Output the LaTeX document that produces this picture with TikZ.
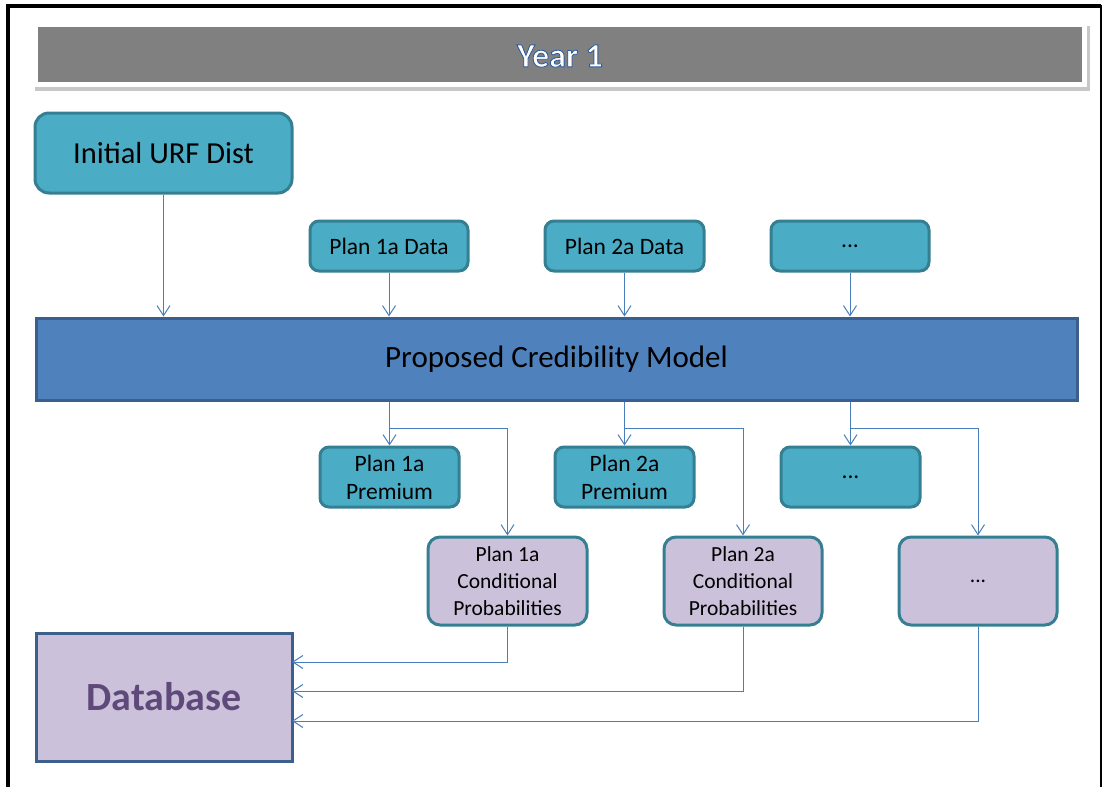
\documentclass[tikz,border=0pt]{standalone}
\usepackage{fontspec}
\setmainfont{Carlito}
\newfontfamily\titlefont[FakeBold=2.5,UprightFont=* Bold]{Carlito}
\usetikzlibrary{arrows.meta,calc}
\definecolor{tealfill}{HTML}{4BACC6}
\definecolor{tealline}{HTML}{357F92}
\definecolor{modelfill}{HTML}{4F81BD}
\definecolor{modelline}{HTML}{3A5F8D}
\definecolor{lavfill}{HTML}{CCC1DA}
\definecolor{dbline}{HTML}{3C5F8C}
\definecolor{arrowcol}{HTML}{4A7EBB}
\definecolor{dbtext}{HTML}{5F497A}
\definecolor{titlegray}{HTML}{808080}
\begin{document}
\begin{tikzpicture}[x=1pt,y=-1pt,
  tealbox/.style={draw=tealline, fill=tealfill, line width=3pt, rounded corners=9pt, text=black, align=center, inner sep=0pt},
  lavbox/.style={draw=tealline, fill=lavfill, line width=3pt, rounded corners=12pt, text=black, align=center, inner sep=0pt},
  smallfont/.style={font=\fontsize{23.5}{28}\selectfont},
  condfont/.style={font=\fontsize{21.5}{27}\selectfont},
  arr/.style={draw=arrowcol, line width=1pt, -{Straight Barb[length=10pt,width=13pt]}}]
\useasboundingbox (0,0) rectangle (1104,787);
\fill[white] (0,0) rectangle (1104,787);
% frame
\draw[line width=4pt] (8,787) -- (8,6) -- (1101,6);
\draw[line width=2pt] (1101,5) -- (1101,787);
% title bar
\fill[black!22] (35,26) rectangle (1090,91);
\fill[white] (33,23) rectangle (1087,87);
\fill[titlegray] (38,27) rectangle (1082,82);
\node[font=\titlefont\fontsize{34}{40}\selectfont] (title) at (560,56)
  {\special{pdf:bcolor [1 1 1] [0.17 0.36 0.62]}Year 1\special{pdf:ecolor}};
% top row
\node[tealbox, minimum width=257pt, minimum height=80pt, rounded corners=14pt, font=\fontsize{30.5}{36}\selectfont] (urf) at (163.5,153) {Initial URF Dist};
\node[tealbox, smallfont, minimum width=158pt, minimum height=50pt] (d1) at (389,246) {Plan 1a Data};
\node[tealbox, smallfont, minimum width=159pt, minimum height=50pt] (d2) at (624.5,246) {Plan 2a Data};
\node[tealbox, smallfont, minimum width=158pt, minimum height=50pt] (d3) at (850,246) {...};
% model
\node[draw=modelline, fill=modelfill, line width=3pt, minimum width=1041pt, minimum height=82pt, inner sep=0pt, font=\fontsize{31}{36}\selectfont] (model) at (556.5,359) {Proposed Credibility Model};
% premiums
\node[tealbox, smallfont, minimum width=139pt, minimum height=60pt] (p1) at (389.5,477) {Plan 1a\\Premium};
\node[tealbox, smallfont, minimum width=139pt, minimum height=60pt] (p2) at (624.5,477) {Plan 2a\\Premium};
\node[tealbox, smallfont, minimum width=139pt, minimum height=60pt] (p3) at (850.5,477) {...};
% conditional
\node[lavbox, condfont, minimum width=159pt, minimum height=88pt] (c1) at (507.5,581) {Plan 1a\\Conditional\\Probabilities};
\node[lavbox, condfont, minimum width=158pt, minimum height=88pt] (c2) at (743,581) {Plan 2a\\Conditional\\Probabilities};
\node[lavbox, condfont, minimum width=158pt, minimum height=88pt] (c3) at (978,581) {...};
% database
\node[draw=dbline, fill=lavfill, line width=3pt, minimum width=256pt, minimum height=128pt, inner sep=0pt, text=dbtext, font=\fontsize{40}{46}\bfseries\selectfont] (db) at (164,697) {Database};
% arrows into model
\draw[arr] (urf.south) -- (urf.south |- model.north);
\draw[arr] (d1.south) -- (d1.south |- model.north);
\draw[arr] (d2.south) -- (d2.south |- model.north);
\draw[arr] (d3.south) -- (d3.south |- model.north);
% arrows out of model
\coordinate (b1) at (389.5,428);
\coordinate (b2) at (624.5,428);
\coordinate (b3) at (850.5,428);
\draw[arr] (p1.north |- model.south) -- (p1.north);
\draw[arr] (p2.north |- model.south) -- (p2.north);
\draw[arr] (p3.north |- model.south) -- (p3.north);
\draw[arr] (b1) -| (c1.north);
\draw[arr] (b2) -| (c2.north);
\draw[arr] (b3) -| (c3.north);
% into database
\coordinate (e1) at (292,662);
\coordinate (e2) at (292,691);
\coordinate (e3) at (292,721);
\draw[arr] (c1.south) |- (e1);
\draw[arr] (c2.south) |- (e2);
\draw[arr] (c3.south) |- (e3);
\end{tikzpicture}
\end{document}
